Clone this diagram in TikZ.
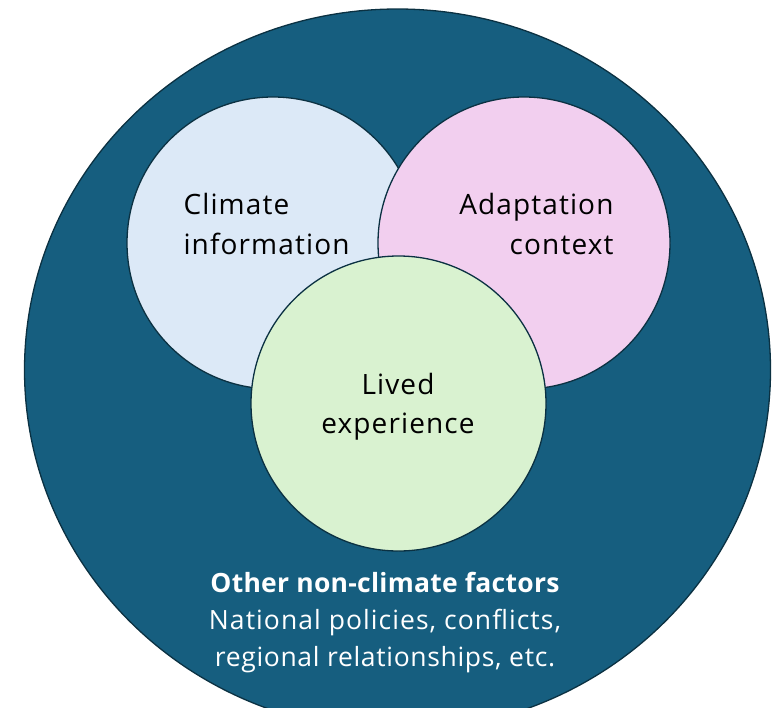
\documentclass[tikz,border=0pt]{standalone}
\usepackage{fontspec}
\setmainfont{Open Sans}[LetterSpace=4]
\newfontfamily\boldsans{Open Sans Bold}[LetterSpace=1]
\newfontfamily\tightsans{Open Sans}[LetterSpace=2.5]
\usetikzlibrary{shapes.geometric}
\definecolor{outer}{HTML}{165E7F}
\definecolor{edge}{HTML}{0B3142}
\definecolor{cblue}{HTML}{DCE9F7}
\definecolor{cpink}{HTML}{F2CFEF}
\definecolor{cgreen}{HTML}{D9F2D0}
\tikzset{
  setc/.style={circle, draw=edge, line width=1.3pt, minimum size=#1, inner sep=0pt},
  lbl/.style={font=\fontsize{28}{39.5}\selectfont, text=black},
  wlbl/.style={font=\fontsize{26.5}{37}\selectfont, text=white, align=center}
}
\begin{document}
\begin{tikzpicture}[x=1pt,y=-1pt]
\useasboundingbox (0,0) rectangle (778,707);
\clip (0,0) rectangle (778,707);
\node[ellipse, draw=edge, line width=1.3pt, fill=outer, minimum width=746pt, minimum height=722pt, inner sep=0pt] (outer) at (397.5,370) {};
\node[setc=292pt, fill=cblue] (clim) at (273,243) {};
\node[setc=292pt, fill=cpink] (adap) at (524,243) {};
\node[setc=295pt, fill=cgreen] (lived) at (398.5,403.5) {};
\node[lbl, align=left, anchor=west] (climt) at (180,224) {Climate\\information};
\node[lbl, align=right, anchor=east] (adapt) at (617,224) {Adaptation\\context};
\node[lbl, align=center] (livedt) at (398,406.5) {Lived\\experience};
\node[wlbl] (othert) at (385,623) {{\boldsans Other non-climate factors}\\National policies, conflicts,\\{\tightsans regional relationships, etc.}};
\end{tikzpicture}
\end{document}
